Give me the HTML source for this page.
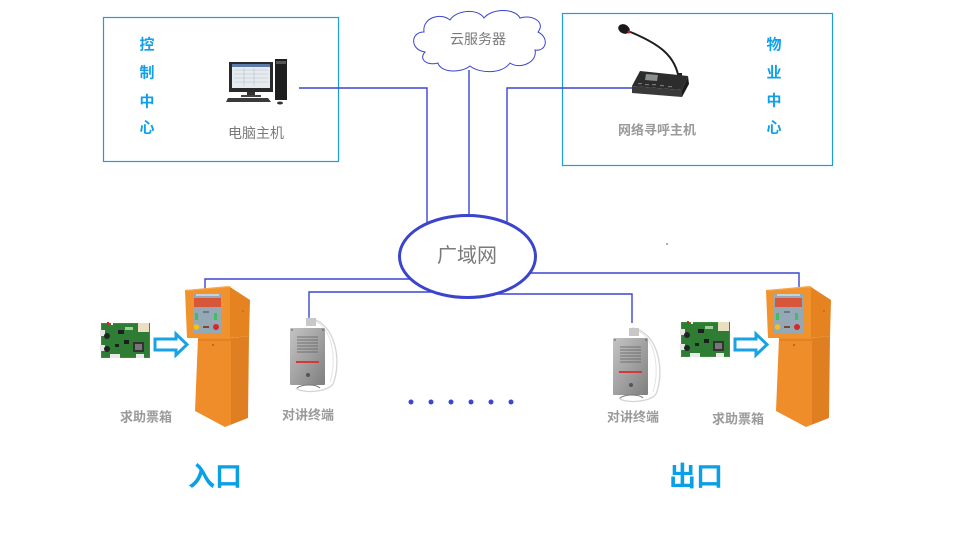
<!DOCTYPE html>
<html>
<head>
<meta charset="utf-8">
<style>
  html,body{margin:0;padding:0;background:#fff;}
  svg{display:block;}
  text{font-family:"Liberation Sans","Noto Sans CJK SC","WenQuanYi Zen Hei",sans-serif;}
</style>
</head>
<body>
<svg width="960" height="540" viewBox="0 0 960 540" xmlns="http://www.w3.org/2000/svg">
  <defs>
    <linearGradient id="steel" x1="0" y1="0" x2="1" y2="1">
      <stop offset="0" stop-color="#c4c4c4"/>
      <stop offset="0.5" stop-color="#a2a2a2"/>
      <stop offset="1" stop-color="#7e7e7e"/>
    </linearGradient>
    <g id="kiosk">
      <!-- head front -->
      <polygon points="185,290 230,287 230,338 187,338" fill="#f0922e"/>
      <!-- head side -->
      <polygon points="230,287 250,300 249,336 230,338" fill="#e4831f"/>
      <polygon points="185,290 228,286 232,287 187,291" fill="#f6a84a"/>
      <!-- lower front -->
      <polygon points="198,338 231,338 231,424 225,427 195,411" fill="#ee8d2a"/>
      <!-- lower side -->
      <polygon points="231,338 249,336 248,418 225,427 231,424" fill="#e07f22"/>
      <line x1="198" y1="340" x2="231" y2="340" stroke="#d07020" stroke-width="0.8"/>
      <!-- panel -->
      <rect x="193" y="293" width="29" height="40" fill="#95a8b6"/>
      <rect x="196" y="294" width="23" height="2" fill="#c8d0d8"/>
      <rect x="194" y="298" width="27" height="9" fill="#d8563a"/>
      <rect x="195" y="313" width="3" height="7" fill="#3fbf5f"/>
      <rect x="214" y="313" width="3" height="7" fill="#3fbf5f"/>
      <rect x="203" y="311" width="6" height="2" fill="#6a7c8a"/>
      <circle cx="196.5" cy="327" r="2.8" fill="#f2c21a"/>
      <circle cx="216" cy="327" r="3" fill="#d92626"/>
      <rect x="203" y="326" width="6" height="2" fill="#7a4a2a"/>
      <circle cx="243" cy="311" r="0.8" fill="#b06010"/>
      <circle cx="213" cy="345" r="0.8" fill="#804010"/>
    </g>
    <g id="intercom">
      <path d="M309,318 C336,322 342,362 333,384 C328,392 302,394 296,388" fill="none" stroke="#d4d4d4" stroke-width="1.3"/>
      <path d="M312,320 C333,326 337,360 330,382" fill="none" stroke="#e4e4e4" stroke-width="1"/>
      <rect x="306" y="318" width="10" height="8" fill="#c8c8c8"/>
      <rect x="290" y="328" width="35" height="57" rx="1" fill="url(#steel)"/>
      <g stroke="#5e5e5e" stroke-width="0.8">
        <line x1="297" y1="337" x2="318" y2="337"/>
        <line x1="297" y1="340" x2="318" y2="340"/>
        <line x1="297" y1="343" x2="318" y2="343"/>
        <line x1="297" y1="346" x2="318" y2="346"/>
        <line x1="297" y1="349" x2="318" y2="349"/>
        <line x1="297" y1="352" x2="318" y2="352"/>
      </g>
      <rect x="296" y="361" width="23" height="2" fill="#d43838"/>
      <circle cx="308" cy="375" r="2" fill="#555"/>
      <circle cx="292" cy="330" r="0.7" fill="#444"/>
      <circle cx="323" cy="330" r="0.7" fill="#444"/>
      <path d="M297,388 C302,384 316,384 320,388" fill="none" stroke="#777" stroke-width="1"/>
    </g>
    <g id="pcb">
      <rect x="101" y="323" width="49" height="35" fill="#3c8c3a"/>
      <rect x="102" y="324" width="47" height="33" fill="#2f7d35"/>
      <rect x="138" y="323" width="11" height="9" fill="#e8e0c0"/>
      <rect x="133" y="342" width="11" height="10" fill="#333"/>
      <rect x="135" y="344" width="7" height="6" fill="#777"/>
      <rect x="100" y="330" width="5" height="6" fill="#e6e6e6"/>
      <rect x="100" y="345" width="5" height="6" fill="#e6e6e6"/>
      <rect x="107" y="322" width="2" height="3" fill="#e02020"/>
      <rect x="111" y="322" width="2" height="3" fill="#f0f0f0"/>
      <circle cx="107" cy="336" r="3" fill="#222"/>
      <circle cx="107" cy="349" r="3" fill="#222"/>
      <rect x="118" y="330" width="6" height="4" fill="#1e1e1e"/>
      <rect x="124" y="340" width="5" height="4" fill="#1e1e1e"/>
      <rect x="115" y="344" width="4" height="3" fill="#1e1e1e"/>
      <rect x="110" y="354" width="10" height="4" fill="#eaeaea"/>
      <rect x="136" y="354" width="8" height="4" fill="#eaeaea"/>
      <rect x="125" y="327" width="8" height="3" fill="#9ccf9a"/>
    </g>
    <path id="arrow" d="M155,339 L176,339 L176,334 L187,344.5 L176,355 L176,350 L155,350 Z" fill="#fff" stroke="#1aa2e6" stroke-width="3" stroke-linejoin="miter"/>
  </defs>

  <!-- boxes -->
  <rect x="103.5" y="17.5" width="235" height="144" fill="none" stroke="#1aa0e0" stroke-width="1.2"/>
  <rect x="562.5" y="13.5" width="270" height="152" fill="none" stroke="#1aa0e0" stroke-width="1.2"/>

  <!-- connectors -->
  <g fill="none" stroke="#3b45cf" stroke-width="1.4">
    <polyline points="299,88 427,88 427,224"/>
    <line x1="469" y1="70" x2="469" y2="216"/>
    <polyline points="632,88 507,88 507,224"/>
    <polyline points="205,292 205,279 412,279"/>
    <polyline points="309,318 309,292 434,292"/>
    <polyline points="528,273 799,273 799,290"/>
    <polyline points="494,294 632,294 632,323"/>
  </g>

  <!-- cloud -->
  <path d="M425,52 C410,50 410,32 424,32 C422,18 440,12 450,20 C456,10 478,8 484,18 C492,8 515,8 520,18 C532,14 546,22 538,32 C550,38 546,52 535,50 C538,62 520,70 510,63 C502,74 480,74 470,66 C460,74 440,72 438,63 C428,66 418,60 425,52 Z" fill="#fff" stroke="#3b45cf" stroke-width="1"/>
  <text x="478" y="39" font-size="14" fill="#7a7a7a" text-anchor="middle" dominant-baseline="central">云服务器</text>

  <!-- ellipse -->
  <ellipse cx="467.5" cy="256.5" rx="68" ry="41" fill="#fff" stroke="#3a44cc" stroke-width="3"/>
  <text x="467" y="256" font-size="20" fill="#7a7a7a" text-anchor="middle" dominant-baseline="central">广域网</text>

  <!-- control center -->
  <g font-size="15" font-weight="bold" fill="#10a0e8" text-anchor="middle" dominant-baseline="central">
    <text x="147" y="45">控</text>
    <text x="147" y="73">制</text>
    <text x="147" y="102">中</text>
    <text x="147" y="128">心</text>
    <text x="774" y="45">物</text>
    <text x="774" y="73">业</text>
    <text x="774" y="101">中</text>
    <text x="774" y="128">心</text>
  </g>

  <!-- computer -->
  <rect x="229" y="62" width="44" height="30" fill="#2a2a2a"/>
  <rect x="232" y="64" width="38" height="24" fill="#e6ebf0"/>
  <rect x="232" y="64" width="38" height="3" fill="#5a7aa8"/>
  <g stroke="#b8c0c8" stroke-width="0.6">
    <line x1="234" y1="70" x2="268" y2="70"/>
    <line x1="234" y1="74" x2="268" y2="74"/>
    <line x1="234" y1="78" x2="268" y2="78"/>
    <line x1="234" y1="82" x2="268" y2="82"/>
    <line x1="244" y1="68" x2="244" y2="86"/>
    <line x1="254" y1="68" x2="254" y2="86"/>
  </g>
  <rect x="247" y="92" width="8" height="4" fill="#333"/>
  <rect x="241" y="95" width="20" height="2" fill="#444"/>
  <rect x="275" y="59" width="12" height="41" fill="#1e1e1e"/>
  <rect x="276" y="61" width="10" height="3" fill="#555"/>
  <polygon points="228,98 268,98 271,102 226,102" fill="#3a3a3a"/>
  <ellipse cx="280" cy="103" rx="3" ry="1.5" fill="#333"/>
  <text x="256" y="133" font-size="14" fill="#7a7a7a" text-anchor="middle" dominant-baseline="central">电脑主机</text>

  <!-- microphone paging host -->
  <path d="M628,31 C660,44 676,56 679,80" fill="none" stroke="#1e1e1e" stroke-width="2"/>
  <ellipse cx="624" cy="29" rx="6" ry="4.5" fill="#1a1a1a" transform="rotate(25 624 29)"/>
  <circle cx="629" cy="32" r="1.5" fill="#d02020"/>
  <rect x="677" y="73" width="5" height="10" fill="#222"/>
  <polygon points="640,71 688,76 682,90 632,86" fill="#2c2c2c"/>
  <polygon points="632,86 682,90 682,97 632,93" fill="#3a3a3a"/>
  <polygon points="682,90 688,76 689,84 682,97" fill="#1a1a1a"/>
  <polygon points="646,74 658,75 657,81 645,80" fill="#8a8f90"/>
  <g fill="#777">
    <rect x="638" y="83" width="4" height="1.2"/>
    <rect x="645" y="84" width="4" height="1.2"/>
    <rect x="652" y="84" width="4" height="1.2"/>
    <rect x="660" y="85" width="4" height="1.2"/>
    <rect x="668" y="86" width="4" height="1.2"/>
  </g>
  <text x="657" y="130" font-size="13" font-weight="bold" fill="#9a9a9a" text-anchor="middle" dominant-baseline="central">网络寻呼主机</text>

  <!-- entrance side -->
  <use href="#pcb"/>
  <use href="#arrow"/>
  <use href="#kiosk"/>
  <use href="#intercom"/>
  <text x="146" y="417" font-size="13" font-weight="bold" fill="#9a9a9a" text-anchor="middle" dominant-baseline="central">求助票箱</text>
  <text x="308" y="415" font-size="13" font-weight="bold" fill="#9a9a9a" text-anchor="middle" dominant-baseline="central">对讲终端</text>

  <!-- exit side -->
  <use href="#pcb" transform="translate(580,-1)"/>
  <use href="#arrow" transform="translate(580,0)"/>
  <use href="#kiosk" transform="translate(581,0)"/>
  <use href="#intercom" transform="translate(323,10)"/>
  <text x="738" y="419" font-size="13" font-weight="bold" fill="#9a9a9a" text-anchor="middle" dominant-baseline="central">求助票箱</text>
  <text x="633" y="417" font-size="13" font-weight="bold" fill="#9a9a9a" text-anchor="middle" dominant-baseline="central">对讲终端</text>

  <!-- dots -->
  <g fill="#3b45cf">
    <circle cx="411" cy="402" r="2.5"/>
    <circle cx="431" cy="402" r="2.5"/>
    <circle cx="451" cy="402" r="2.5"/>
    <circle cx="471" cy="402" r="2.5"/>
    <circle cx="491" cy="402" r="2.5"/>
    <circle cx="511" cy="402" r="2.5"/>
  </g>
  <circle cx="667" cy="244" r="0.8" fill="#555"/>

  <!-- entrance/exit labels -->
  <text x="215" y="477" font-size="27" font-weight="bold" fill="#0aa0e6" text-anchor="middle" dominant-baseline="central">入口</text>
  <text x="696" y="477" font-size="27" font-weight="bold" fill="#0aa0e6" text-anchor="middle" dominant-baseline="central">出口</text>
</svg>
</body>
</html>
